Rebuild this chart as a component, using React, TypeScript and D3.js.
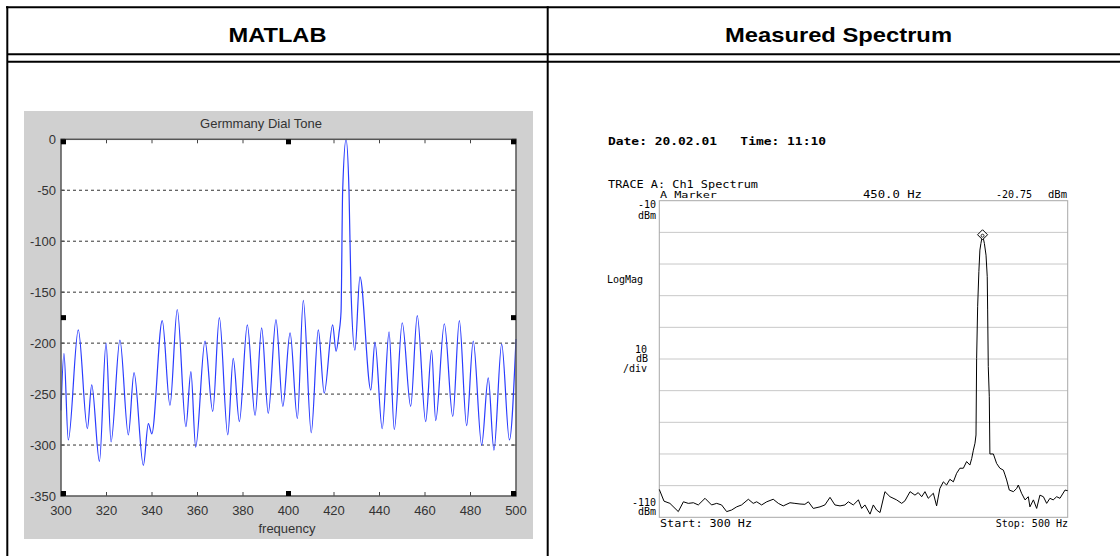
import React from "react";
import * as d3 from "d3";

const W = 1120;
const H = 556;

const panelTitles = ["MATLAB", "Measured Spectrum"];

// MATLAB panel: peaks and troughs (Hz, dB)
const matlabTrace: [number, number][] = [
  [300, -266], [301.3, -210], [303.2, -295], [307.6, -187], [311.6, -284],
  [313.5, -241], [316.9, -316], [319.8, -200], [322, -297], [325.9, -197],
  [329.6, -290], [332.1, -229], [336.2, -320], [338.4, -279], [339.9, -289],
  [344.5, -178], [347.9, -261], [351.1, -167], [354.9, -282], [357.1, -228],
  [359.2, -302], [363.3, -198], [366.7, -267], [369.6, -175], [373.3, -290],
  [375.7, -215], [378.4, -277], [381.9, -182], [385.3, -271], [388.2, -185],
  [391.1, -269], [394.5, -177], [397.5, -262], [400.7, -190], [403.9, -274],
  [406.5, -158], [410, -288], [413.1, -187], [415.7, -249], [419.4, -182],
  [420.9, -208], [422.2, -190], [423.1, -169], [423.8, -51], [425.3, 0],
  [426.6, -51], [427.5, -150], [429.2, -207], [431.4, -135], [436.2, -246],
  [438, -199], [441.2, -284], [444.2, -189], [446.5, -285], [450, -180],
  [453.7, -262], [456.6, -173], [460.3, -277], [462.9, -207], [464.7, -276],
  [468.5, -181], [472.2, -272], [475.1, -178], [478.3, -281], [481.2, -198],
  [484.9, -300], [487.8, -234], [490.3, -305], [493.7, -201], [497.1, -295],
  [500, -196],
];
const matlabTitle = "Germmany Dial Tone";
const matlabXLabel = "frequency";
const matlabXTicks = [300, 320, 340, 360, 380, 400, 420, 440, 460, 480, 500];
const matlabYTicks = [0, -50, -100, -150, -200, -250, -300, -350];
const matlabGrid = [-50, -100, -150, -200, -250, -300];

// analyser trace (Hz, dBm)
const specTrace: [number, number][] = [
  [300, -101.2], [302.3, -104.9], [305.2, -105.6], [309.3, -108.2], [311.8, -105.1],
  [314.2, -105.6], [316.7, -105.4], [319.1, -106.1], [322.4, -104.0], [325.6, -106.1],
  [328.1, -105.6], [330.5, -106.1], [333.0, -108.2], [335.4, -107.7], [337.9, -106.7],
  [340.3, -106.1], [343.6, -104.3], [346.0, -105.6], [347.7, -105.1], [350.1, -106.1],
  [352.6, -105.1], [355.8, -104.3], [358.3, -105.6], [360.7, -106.4], [364.0, -105.4],
  [366.4, -105.6], [368.9, -105.8], [371.3, -105.9], [373.0, -105.1], [375.4, -107.2],
  [378.7, -106.7], [381.1, -106.1], [383.6, -103.7], [386.0, -106.1], [388.5, -106.4],
  [390.9, -106.1], [392.6, -105.1], [395.0, -106.1], [397.5, -104.5], [399.1, -107.2],
  [400.7, -106.1], [403.2, -109.0], [404.8, -106.1], [406.4, -107.7], [408.1, -108.5],
  [410.5, -101.9], [413.0, -103.5], [416.2, -104.5], [418.7, -105.6], [420.3, -104.8],
  [422.8, -101.9], [425.2, -103.0], [426.8, -102.2], [428.5, -103.5], [430.1, -101.9],
  [431.7, -104.0], [434.2, -102.4], [435.8, -106.4], [437.4, -100.9], [439.1, -98.8],
  [440.7, -99.8], [442.3, -98.0], [444.0, -98.8], [445.6, -96.1], [447.2, -94.5],
  [448.9, -94.5], [450.5, -92.4], [452.1, -93.5], [453.0, -91.4], [453.8, -88.8],
  [454.6, -86.6], [455.1, -84.0], [455.4, -59.8], [455.9, -43.5], [456.5, -32.4],
  [457.0, -25.6], [457.5, -23.5], [458.3, -20.75], [459.2, -23.5], [460.0, -27.2],
  [460.6, -34.0], [460.8, -44.5], [461.1, -62.4], [461.6, -71.9], [461.9, -90.0],
  [463.6, -90.0], [465.2, -93.0], [466.8, -94.5], [468.5, -95.1], [469.3, -96.6],
  [470.1, -98.2], [471.4, -101.4], [473.4, -101.9], [475.0, -100.9], [475.8, -99.8],
  [477.4, -102.4], [479.1, -104.5], [480.7, -103.5], [481.5, -106.7], [483.2, -104.5],
  [484.8, -107.2], [486.4, -103.0], [488.1, -103.5], [489.7, -105.6], [491.3, -104.0],
  [492.9, -104.5], [494.6, -103.5], [496.2, -104.0], [498.7, -101.4], [500, -101.6],
];
const specGrid = [-20, -30, -40, -50, -60, -70, -80, -90, -100];
const specMarker: [number, number] = [458.3, -20.75];

const MONO = "'DejaVu Sans Mono', monospace";
const SANS = "'Liberation Sans', Arial, sans-serif";

function MatlabPanel() {
  const x = d3.scaleLinear().domain([300, 500]).range([61, 516]);
  const y = d3.scaleLinear().domain([-350, 0]).range([496, 139.3]);
  const line = d3
    .line<[number, number]>()
    .x((d) => x(d[0]))
    .y((d) => y(d[1]))
    .curve(d3.curveMonotoneX);
  const [x0, x1] = x.range();
  const [y0, y1] = y.range();
  const xm = (x0 + x1) / 2;
  const ym = (y0 + y1) / 2;
  // edit handles round the axes box
  const handles = [
    [x0, y1], [xm - 2.5, y1], [x1 - 5, y1],
    [x0, ym - 2.5], [x1 - 5, ym - 2.5],
    [x0, y0 - 5], [xm - 2.5, y0 - 5], [x1 - 5, y0 - 5],
  ];

  return (
    <g>
      <rect x={24} y={111} width={509} height={428} fill="#d0d0d0" />
      <rect x={x0} y={y1} width={x1 - x0} height={y0 - y1} fill="#fff" />
      {matlabGrid.map((v) => (
        <line key={v} x1={x0} x2={x1} y1={y(v)} y2={y(v)} stroke="#333" strokeDasharray="3,3" />
      ))}
      {matlabXTicks.map((t) => (
        <g key={t}>
          <line x1={x(t)} x2={x(t)} y1={y0} y2={y0 - 4} stroke="#444" />
          <line x1={x(t)} x2={x(t)} y1={y1} y2={y1 + 4} stroke="#444" />
          <text x={x(t)} y={510} dy="0.35em" textAnchor="middle" fontFamily={SANS} fontSize={13} fill="#333">
            {t}
          </text>
        </g>
      ))}
      {matlabYTicks.map((t) => (
        <g key={t}>
          <line x1={x0} x2={x0 + 4} y1={y(t)} y2={y(t)} stroke="#444" />
          <line x1={x1} x2={x1 - 4} y1={y(t)} y2={y(t)} stroke="#444" />
          <text x={56} y={y(t)} dy="0.35em" textAnchor="end" fontFamily={SANS} fontSize={13} fill="#333">
            {t}
          </text>
        </g>
      ))}
      <path d={line(matlabTrace) || ""} fill="none" stroke="#2a3cff" strokeWidth={1.2} />
      <rect x={x0} y={y1} width={x1 - x0} height={y0 - y1} fill="none" stroke="#555" strokeWidth={1.5} />
      {handles.map((h, i) => (
        <rect key={i} x={h[0]} y={h[1]} width={5} height={5} fill="#000" />
      ))}
      <text x={261} y={123} dy="0.35em" textAnchor="middle" fontFamily={SANS} fontSize={13} fill="#333">
        {matlabTitle}
      </text>
      <text x={287} y={528} dy="0.35em" textAnchor="middle" fontFamily={SANS} fontSize={13} fill="#333">
        {matlabXLabel}
      </text>
    </g>
  );
}

function SpectrumPanel() {
  const x = d3.scaleLinear().domain([300, 500]).range([659.3, 1067.7]);
  const y = d3.scaleLinear().domain([-110, -10]).range([517.3, 200.7]);
  const line = d3
    .line<[number, number]>()
    .x((d) => x(d[0]))
    .y((d) => y(d[1]));
  const [x0, x1] = x.range();
  const [y0, y1] = y.range();
  const mx = x(specMarker[0]);
  const my = y(specMarker[1]);
  const t = { fontFamily: MONO, fontSize: 10, fill: "#000" };

  return (
    <g>
      <text x={608} y={145} fontFamily={MONO} fontSize={11} fontWeight="bold" textLength={218} lengthAdjust="spacingAndGlyphs" xmlSpace="preserve">
        {"Date: 20.02.01   Time: 11:10"}
      </text>
      <text x={608} y={187.5} {...t} textLength={150} lengthAdjust="spacingAndGlyphs">TRACE A: Ch1 Spectrum</text>
      <text x={660} y={197.5} {...t} fontSize={9.5} textLength={57} lengthAdjust="spacingAndGlyphs">A Marker</text>
      <text x={863} y={197.5} {...t} textLength={59} lengthAdjust="spacingAndGlyphs">450.0 Hz</text>
      <text x={996} y={197.5} {...t}>-20.75</text>
      <text x={1048} y={197.5} {...t} textLength={19} lengthAdjust="spacingAndGlyphs">dBm</text>
      <text x={656} y={207.5} {...t} textAnchor="end">-10</text>
      <text x={656} y={218.5} {...t} textAnchor="end">dBm</text>
      <text x={607} y={283} {...t}>LogMag</text>
      <text x={647} y={353} {...t} textAnchor="end">10</text>
      <text x={648} y={362} {...t} textAnchor="end">dB</text>
      <text x={647} y={372} {...t} textAnchor="end">/div</text>
      <text x={656} y={506} {...t} textAnchor="end">-110</text>
      <text x={656} y={515} {...t} textAnchor="end">dBm</text>
      <text x={660} y={527} {...t} textLength={92} lengthAdjust="spacingAndGlyphs">Start: 300 Hz</text>
      <text x={1068} y={527} {...t} textAnchor="end">Stop: 500 Hz</text>
      {specGrid.map((v) => (
        <line key={v} x1={x0} x2={x1} y1={y(v)} y2={y(v)} stroke="#c8c8c8" />
      ))}
      <rect x={x0} y={y1} width={x1 - x0} height={y0 - y1} fill="none" stroke="#a8a8a8" />
      <path d={line(specTrace) || ""} fill="none" stroke="#000" strokeWidth={1} />
      <path
        d={`M${mx},${my - 5}L${mx + 5},${my}L${mx},${my + 5}L${mx - 5},${my}Z`}
        fill="#fff"
        stroke="#000"
      />
      <circle cx={mx} cy={my + 1} r={1.5} fill="none" stroke="#000" strokeWidth={0.8} />
    </g>
  );
}

export default function App() {
  return (
    <svg
      width={W}
      height={H}
      style={{ position: "absolute", left: 0, top: 0, display: "block", background: "#fff" }}
    >
      <rect width={W} height={H} fill="#fff" />
      <MatlabPanel />
      <SpectrumPanel />
      {/* table frame */}
      <g stroke="#000" strokeWidth={2}>
        <line x1={6} x2={W} y1={7.3} y2={7.3} />
        <line x1={7.3} x2={W} y1={54.3} y2={54.3} />
        <line x1={7.3} x2={W} y1={61.7} y2={61.7} />
        <line x1={7.3} x2={7.3} y1={6.3} y2={H} />
        <line x1={547.7} x2={547.7} y1={6.3} y2={H} />
      </g>
      <text x={277.5} y={35} dy="0.35em" textAnchor="middle" fontFamily={SANS} fontWeight="bold" fontSize={21} textLength={98} lengthAdjust="spacingAndGlyphs">
        {panelTitles[0]}
      </text>
      <text x={838.5} y={35} dy="0.35em" textAnchor="middle" fontFamily={SANS} fontWeight="bold" fontSize={21} textLength={227} lengthAdjust="spacingAndGlyphs">
        {panelTitles[1]}
      </text>
    </svg>
  );
}
